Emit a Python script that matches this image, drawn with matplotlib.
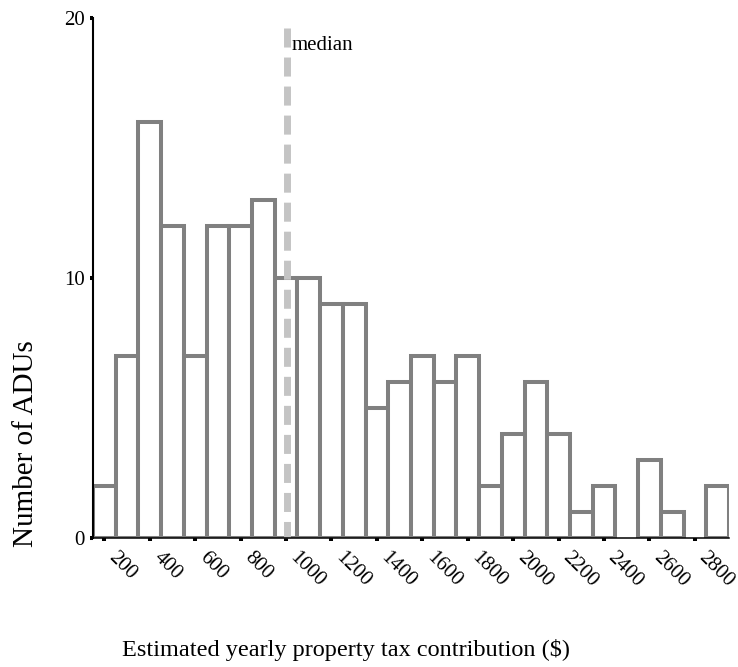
import matplotlib

matplotlib.use("Agg")
import matplotlib.pyplot as plt

plt.rcParams["font.family"] = ["Liberation Serif", "DejaVu Serif"]
plt.rcParams["lines.scale_dashes"] = False

# histogram of estimated yearly property tax per ADU, $100 bins
bin_centers = [200, 300, 400, 500, 600, 700, 800, 900, 1000, 1100, 1200, 1300,
               1400, 1500, 1600, 1700, 1800, 1900, 2000, 2100, 2200, 2300,
               2400, 2500, 2600, 2700, 2800, 2900]
counts = [2, 7, 16, 12, 7, 12, 12, 13, 10, 10, 9, 9,
          5, 6, 7, 6, 7, 2, 4, 6, 4, 1,
          2, 0, 3, 1, 0, 2]
bin_width = 100
median_value = 1005
x_ticks = [200, 400, 600, 800, 1000, 1200, 1400, 1600, 1800, 2000, 2200,
           2400, 2600, 2800]
y_ticks = [0, 10, 20]

BAR_EDGE = "#808080"
MEDIAN_COLOR = "#c4c4c4"

fig = plt.figure(figsize=(7.38, 6.67), dpi=100)
ax = fig.add_axes([0.1260, 0.1934, 0.8618, 0.7796])

# empty bins get no outline so the baseline stays black there
edge = [BAR_EDGE if c > 0 else "none" for c in counts]
ax.bar(bin_centers, counts, width=bin_width, facecolor="white",
       edgecolor=edge, linewidth=2.9, zorder=1)

ax.plot([median_value, median_value], [19.6, 0], color=MEDIAN_COLOR,
        linewidth=5, dashes=(13.7, 7.2), solid_capstyle="butt",
        dash_capstyle="butt", zorder=3, clip_on=False)
ax.text(median_value + 20, 18.95, "median", fontsize=15, ha="left",
        va="center", color="black")

ax.set_xlim(150, 2950)
ax.set_ylim(0, 20)
ax.set_xticks(x_ticks)
ax.set_yticks(y_ticks)
ax.set_xticklabels([str(t) for t in x_ticks])
ax.set_yticklabels([str(t) for t in y_ticks])

for side in ("top", "right"):
    ax.spines[side].set_visible(False)
ax.spines["left"].set_linewidth(1.5)
ax.spines["bottom"].set_linewidth(1.1)
ax.spines["left"].set_zorder(4)
ax.spines["bottom"].set_zorder(4)

ax.tick_params(axis="both", direction="out", length=2.2, width=2.9,
               color="black", labelsize=15)
ax.tick_params(axis="x", pad=5)
ax.tick_params(axis="y", pad=3.5)
plt.setp(ax.get_xticklabels(), rotation=-45, ha="left", va="top")

fig.text(345.5 / 738, 1 - 656 / 667,
         "Estimated yearly property tax contribution ($)",
         fontsize=17.5, ha="center", va="baseline")
fig.text(33 / 738, 1 - 443.5 / 667, "Number of ADUs", fontsize=21,
         rotation=90, rotation_mode="anchor", ha="center", va="baseline")

fig.savefig("out.png", dpi=100)
